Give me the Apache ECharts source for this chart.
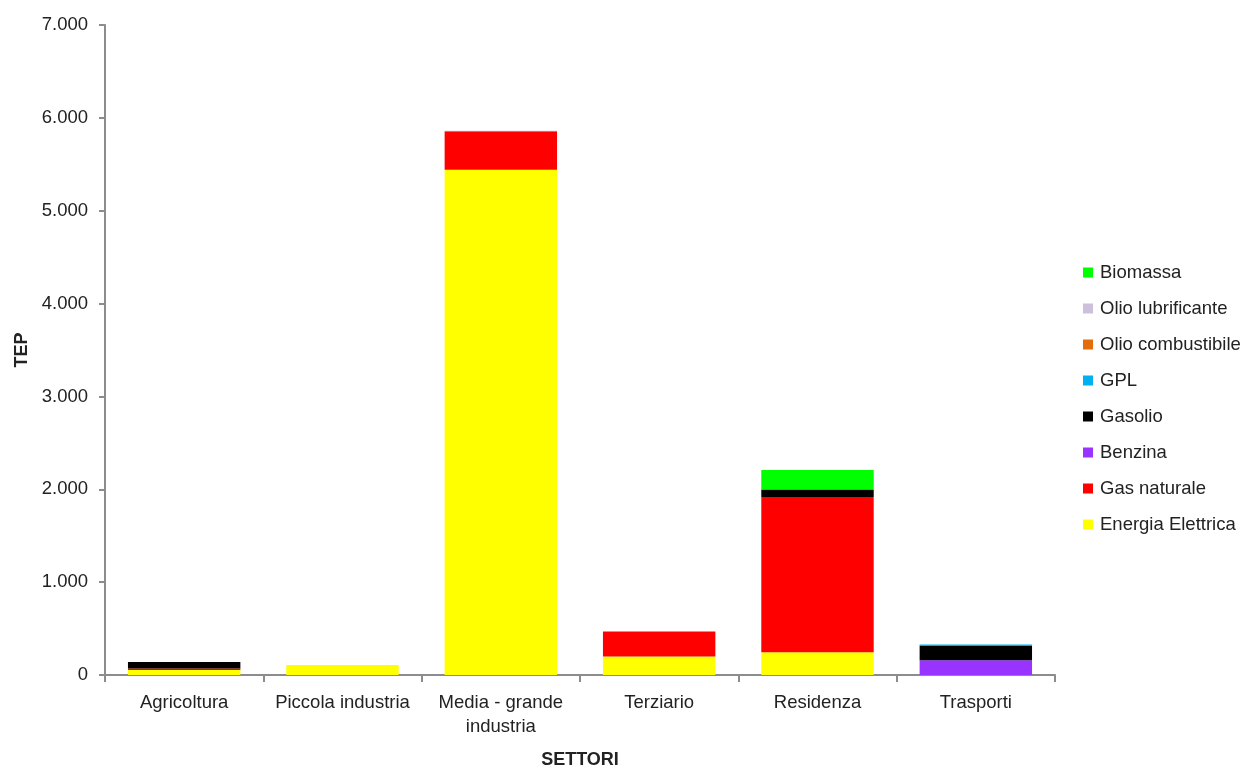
<!DOCTYPE html>
<html><head><meta charset="utf-8">
<script src="https://cdn.jsdelivr.net/npm/echarts@6/dist/echarts.min.js"></script>
<style>html,body{margin:0;padding:0;background:#fff;overflow:hidden}#c{width:1243px;height:769px}</style>
</head><body><div id="c"></div>
<script>
const categories = ['Agricoltura', 'Piccola industria', 'Media - grande\nindustria', 'Terziario', 'Residenza', 'Trasporti'];
const energiaElettrica = [55, 105, 5440, 200, 245, 0];
const gasNaturale = [15, 0, 415, 268, 1672, 0];
const benzina = [0, 0, 0, 0, 0, 160];
const gasolio = [70, 0, 0, 0, 75, 157];
const gpl = [0, 0, 0, 0, 10, 12];
const olioCombustibile = [0, 0, 0, 0, 0, 0];
const olioLubrificante = [0, 4, 5, 0, 0, 0];
const biomassa = [0, 0, 0, 0, 205, 0];
const yTicks = [0, 1000, 2000, 3000, 4000, 5000, 6000, 7000];

const seriesDefs = [
  ['Energia Elettrica', energiaElettrica, '#FFFF00'],
  ['Gas naturale', gasNaturale, '#FF0000'],
  ['Benzina', benzina, '#9933FF'],
  ['Gasolio', gasolio, '#000000'],
  ['GPL', gpl, '#00B0F0'],
  ['Olio combustibile', olioCombustibile, '#E46C0A'],
  ['Olio lubrificante', olioLubrificante, '#CCC0DA'],
  ['Biomassa', biomassa, '#00FF00']
];
const fmt = v => String(v).replace(/\B(?=(\d{3})+(?!\d))/g, '.');
const chart = echarts.init(document.getElementById('c'), null, {renderer: 'canvas'});
const font = 'Liberation Sans, Arial, sans-serif';
const fs = 18.5;
chart.setOption({
  animation: false,
  textStyle: {fontFamily: font},
  grid: {left: 105, right: 188, top: 25, bottom: 94, outerBoundsMode: 'none', containLabel: false},
  legend: {
    orient: 'vertical', left: 1083, top: 263, padding: 0,
    data: seriesDefs.map(s => s[0]).reverse(),
    itemWidth: 10, itemHeight: 10, itemGap: 17, icon: 'rect',
    textStyle: {fontSize: fs, color: '#222', fontFamily: font, padding: [0, 0, 0, 2]}
  },
  xAxis: {
    type: 'category', data: categories,
    name: 'SETTORI', nameLocation: 'middle', nameGap: 76,
    nameTextStyle: {fontWeight: 'bold', fontSize: 18, color: '#222'},
    axisLine: {lineStyle: {color: '#8c8c8c', width: 2}},
    axisTick: {show: true, length: 7, interval: 0, lineStyle: {color: '#8c8c8c', width: 2}},
    axisLabel: {fontSize: fs, color: '#222', margin: 16, lineHeight: 24, interval: 0}
  },
  yAxis: {
    type: 'value', min: yTicks[0], max: yTicks[yTicks.length - 1], interval: 1000,
    name: 'TEP', nameLocation: 'middle', nameGap: 70, nameRotate: 90,
    nameTextStyle: {fontWeight: 'bold', fontSize: 18, color: '#222'},
    axisLine: {show: true, lineStyle: {color: '#8c8c8c', width: 2}},
    axisTick: {show: true, length: 6, lineStyle: {color: '#8c8c8c', width: 2}},
    splitLine: {show: false},
    axisLabel: {fontSize: fs, color: '#222', margin: 17, formatter: v => fmt(v)}
  },
  series: seriesDefs.map(([name, data, color]) => ({
    name, type: 'bar', stack: 'total', data,
    barCategoryGap: '29%',
    itemStyle: {color}
  }))
});
</script></body></html>
